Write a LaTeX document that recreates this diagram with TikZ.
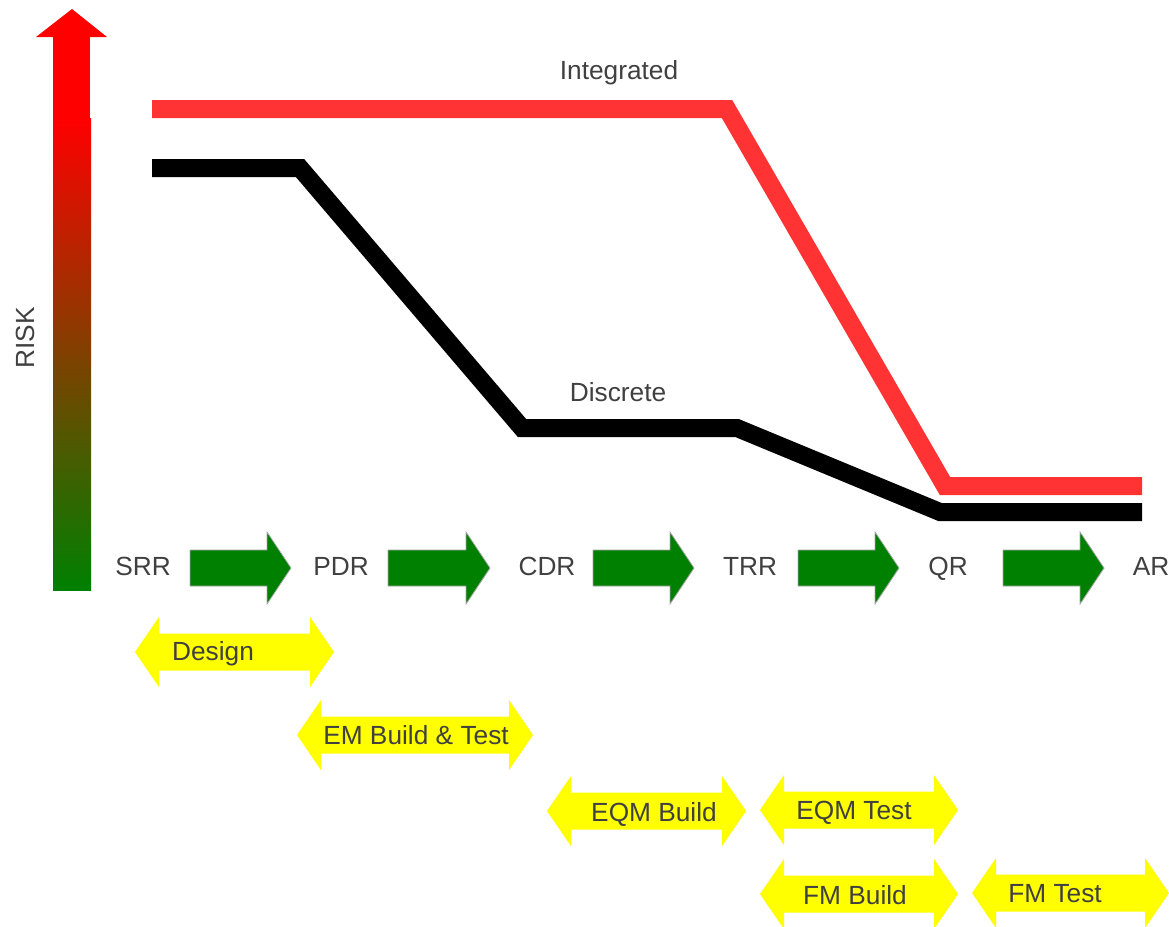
\documentclass[tikz,border=0pt]{standalone}
\usepackage{fontspec}
\setmainfont{Liberation Sans}
\definecolor{riskgreen}{RGB}{0,128,0}
\definecolor{intred}{RGB}{255,51,51}
\definecolor{txtgray}{RGB}{64,64,64}
\definecolor{ylw}{RGB}{255,255,0}
\newcommand{\greenarr}[3]{%
  \fill[riskgreen,draw=gray!70,line width=0.6pt] (#1,#3-18) -- (#2-24,#3-18) -- (#2-24,#3-36) -- (#2,#3) -- (#2-24,#3+36) -- (#2-24,#3+18) -- (#1,#3+18) -- cycle;}
\newcommand{\yellowdbl}[3]{%
  \fill[ylw] (#1,#3) -- (#1+24,#3-35) -- (#1+24,#3-18.5) -- (#2-24,#3-18.5) -- (#2-24,#3-35) -- (#2,#3) -- (#2-24,#3+35) -- (#2-24,#3+18.5) -- (#1+24,#3+18.5) -- (#1+24,#3+35) -- cycle;}
\tikzset{
  lbl/.style={text=txtgray,font=\fontsize{19.7}{21}\selectfont,inner sep=0pt,text height=14.1pt,text depth=0pt},
  curve/.style={line width=13.5pt,miter limit=10},
}
\begin{document}
\begin{tikzpicture}[x=0.75pt,y=-0.75pt]
\useasboundingbox (0,0) rectangle (1169,926);
% risk arrow
\shade[top color=red,bottom color=riskgreen] (53,118) rectangle (91,590);
\fill[red] (53,36) rectangle (90,118.5);
\fill[red] (36,37) -- (72,9) -- (107,37) -- cycle;
\node[lbl,rotate=90] (risk) at (25,338) {RISK};
% curves
\draw[curve,intred] (152,109) -- (727,109) -- (945,486) -- (1142,486);
\draw[curve,black] (152,168) -- (300,168) -- (522,428) -- (737,428) -- (940,512) -- (1142,512);
\node[lbl] (integrated) at (619,70) {Integrated};
\node[lbl] (discrete) at (618,392) {Discrete};
% milestones
\node[lbl] (srr) at (143,566) {SRR};
\node[lbl] (pdr) at (341,566) {PDR};
\node[lbl] (cdr) at (547,566) {CDR};
\node[lbl] (trr) at (750,566) {TRR};
\node[lbl] (qr) at (948,566) {QR};
\node[lbl] (ar) at (1151,566) {AR};
\greenarr{190}{291}{568}
\greenarr{388}{490}{568}
\greenarr{593}{694}{568}
\greenarr{798}{899}{568}
\greenarr{1003}{1104}{568}
% phases
\yellowdbl{135}{334}{652}
\node[lbl] (design) at (213,651) {Design};
\yellowdbl{297}{533}{735}
\node[lbl] (em) at (416,735) {EM Build \& Test};
\yellowdbl{547}{746}{811}
\node[lbl] (eqmb) at (654,812) {EQM Build};
\yellowdbl{760}{958}{810}
\node[lbl] (eqmt) at (854,810) {EQM Test};
\yellowdbl{760}{958}{894}
\node[lbl] (fmb) at (855,895) {FM Build};
\yellowdbl{972}{1169}{893}
\node[lbl] (fmt) at (1055,893) {FM Test};
\end{tikzpicture}
\end{document}
